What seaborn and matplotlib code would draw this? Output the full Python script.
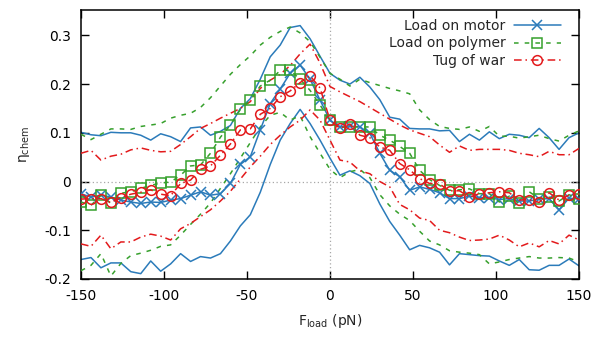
import numpy as np
import pandas as pd
import matplotlib
matplotlib.use("Agg")
import matplotlib.pyplot as plt
import seaborn as sns

# ---------------- data ----------------
force = [-150, -144, -138, -132, -126, -120, -114, -108, -102, -96, -90, -84, -78,
         -72, -66, -60, -54, -48, -42, -36, -30, -24, -18, -12, -6, 0,
         6, 12, 18, 24, 30, 36, 42, 48, 54, 60, 66, 72, 78, 84, 90,
         96, 102, 108, 114, 120, 126, 132, 138, 144, 150]

motor_mean = [-0.025, -0.032, -0.028, -0.032, -0.038, -0.042, -0.045, -0.042, -0.043, -0.038,
              -0.035, -0.028, -0.021, -0.028, -0.025, -0.004, 0.035, 0.051, 0.106, 0.160,
              0.190, 0.222, 0.239, 0.210, 0.167, 0.126, 0.112, 0.114, 0.112, 0.099,
              0.058, 0.023, 0.010, -0.018, -0.011, -0.016, -0.023, -0.035, -0.035, -0.030,
              -0.033, -0.033, -0.037, -0.035, -0.040, -0.040, -0.036, -0.035, -0.058, -0.034,
              -0.036]
motor_hi = [0.101, 0.096, 0.094, 0.101, 0.100, 0.100, 0.095, 0.085, 0.098, 0.092,
            0.082, 0.110, 0.112, 0.095, 0.103, 0.115, 0.150, 0.170, 0.210, 0.256,
            0.280, 0.316, 0.320, 0.293, 0.257, 0.222, 0.208, 0.200, 0.214, 0.194,
            0.168, 0.132, 0.128, 0.109, 0.108, 0.108, 0.104, 0.105, 0.082, 0.097,
            0.085, 0.102, 0.088, 0.097, 0.095, 0.090, 0.109, 0.090, 0.066, 0.090,
            0.100]
motor_lo = [-0.160, -0.156, -0.177, -0.167, -0.167, -0.185, -0.189, -0.163, -0.184, -0.169,
            -0.148, -0.164, -0.154, -0.157, -0.148, -0.122, -0.091, -0.068, -0.022, 0.035,
            0.085, 0.119, 0.148, 0.119, 0.085, 0.048, 0.013, 0.022, 0.012, -0.004,
            -0.046, -0.082, -0.110, -0.140, -0.131, -0.136, -0.145, -0.171, -0.148, -0.150,
            -0.152, -0.153, -0.163, -0.172, -0.160, -0.181, -0.182, -0.172, -0.172, -0.159,
            -0.173]

polymer_mean = [-0.042, -0.049, -0.028, -0.045, -0.024, -0.021, -0.014, -0.008, -0.003, -0.001,
                0.013, 0.032, 0.034, 0.058, 0.091, 0.116, 0.148, 0.167, 0.196, 0.208,
                0.228, 0.228, 0.210, 0.187, 0.157, 0.126, 0.111, 0.112, 0.112, 0.112,
                0.095, 0.085, 0.072, 0.058, 0.023, 0.004, -0.008, -0.018, -0.017, -0.015,
                -0.025, -0.025, -0.042, -0.030, -0.045, -0.021, -0.035, -0.032, -0.040, -0.027,
                -0.035]
polymer_hi = [0.097, 0.086, 0.097, 0.108, 0.108, 0.107, 0.113, 0.116, 0.119, 0.130,
              0.136, 0.140, 0.152, 0.172, 0.196, 0.220, 0.240, 0.258, 0.280, 0.296,
              0.308, 0.317, 0.305, 0.287, 0.255, 0.222, 0.210, 0.196, 0.210, 0.203,
              0.197, 0.191, 0.186, 0.180, 0.147, 0.127, 0.113, 0.109, 0.107, 0.112,
              0.103, 0.113, 0.093, 0.093, 0.089, 0.092, 0.095, 0.088, 0.083, 0.095,
              0.104]
polymer_lo = [-0.183, -0.172, -0.148, -0.194, -0.168, -0.152, -0.147, -0.141, -0.133, -0.130,
              -0.110, -0.088, -0.067, -0.044, -0.014, 0.016, 0.048, 0.080, 0.112, 0.136,
              0.142, 0.126, 0.135, 0.092, 0.058, 0.025, 0.008, 0.020, 0.025, 0.008,
              -0.027, -0.050, -0.067, -0.080, -0.102, -0.122, -0.130, -0.142, -0.145, -0.147,
              -0.150, -0.169, -0.165, -0.160, -0.157, -0.154, -0.157, -0.157, -0.156, -0.157,
              -0.165]

tug_mean = [-0.036, -0.035, -0.035, -0.043, -0.033, -0.026, -0.022, -0.017, -0.026, -0.029,
            -0.004, 0.003, 0.025, 0.032, 0.054, 0.077, 0.106, 0.108, 0.138, 0.150,
            0.174, 0.186, 0.203, 0.217, 0.192, 0.126, 0.109, 0.118, 0.095, 0.090,
            0.071, 0.064, 0.037, 0.024, 0.006, -0.004, -0.005, -0.019, -0.019, -0.032,
            -0.025, -0.023, -0.021, -0.023, -0.038, -0.037, -0.043, -0.023, -0.038, -0.028,
            -0.026]
tug_hi = [0.058, 0.064, 0.044, 0.052, 0.056, 0.065, 0.069, 0.064, 0.061, 0.062,
          0.076, 0.092, 0.109, 0.119, 0.130, 0.140, 0.150, 0.164, 0.191, 0.208,
          0.220, 0.238, 0.262, 0.282, 0.243, 0.195, 0.184, 0.174, 0.164, 0.152,
          0.140, 0.128, 0.116, 0.106, 0.099, 0.092, 0.075, 0.060, 0.073, 0.064,
          0.066, 0.066, 0.066, 0.064, 0.058, 0.055, 0.051, 0.062, 0.055, 0.055,
          0.068]
tug_lo = [-0.128, -0.133, -0.110, -0.138, -0.124, -0.124, -0.114, -0.108, -0.112, -0.120,
          -0.097, -0.086, -0.072, -0.058, -0.040, -0.020, 0.005, 0.030, 0.052, 0.076,
          0.095, 0.112, 0.126, 0.147, 0.126, 0.085, 0.044, 0.040, 0.022, 0.016,
          0.000, -0.011, -0.047, -0.058, -0.075, -0.080, -0.100, -0.105, -0.114, -0.121,
          -0.120, -0.118, -0.110, -0.120, -0.134, -0.126, -0.134, -0.121, -0.128, -0.110,
          -0.120]

labels = ["Load on motor", "Load on polymer", "Tug of war"]
x_ticks = [-150, -100, -50, 0, 50, 100, 150]
y_ticks = [-0.2, -0.1, 0, 0.1, 0.2, 0.3]
y_ticklabels = ["-0.2", "-0.1", "0", "0.1", "0.2", "0.3"]
x_ticklabels = ["-150", "-100", "-50", "0", "50", "100", "150"]

# ---------------- style ----------------
sns.set_theme(style="ticks")
plt.rcParams["font.family"] = ["DejaVu Sans"]
plt.rcParams["mathtext.fontset"] = "dejavusans"
plt.rcParams["font.size"] = 10

colors = ["#2b7bba", "#36a02c", "#e31a1c"]
styles = ["-", (0, (3, 4)), (0, (5, 2.5, 1, 2.5))]
markers = ["x", "s", "o"]
lw = 1.1

fig = plt.figure(figsize=(5.98, 3.37), dpi=100)
ax = fig.add_axes([81 / 598, 1 - 279 / 337, (579 - 81) / 598, (279 - 10) / 337])

ax.axhline(0, color="#a8a8a8", lw=0.9, ls=(0, (1, 2)), zorder=1)
ax.axvline(0, color="#a8a8a8", lw=0.9, ls=(0, (1, 2)), zorder=1)

series = [(motor_mean, motor_hi, motor_lo),
          (polymer_mean, polymer_hi, polymer_lo),
          (tug_mean, tug_hi, tug_lo)]

handles = []
for k, (m, hi, lo) in enumerate(series):
    df = pd.DataFrame({"force": force, "mean": m, "hi": hi, "lo": lo})
    for col in ("hi", "lo"):
        sns.lineplot(data=df, x="force", y=col, ax=ax, color=colors[k],
                     linestyle=styles[k], lw=lw, zorder=2 + k, legend=False)
    sns.lineplot(data=df, x="force", y="mean", ax=ax, color=colors[k],
                 linestyle=styles[k], lw=lw, marker=markers[k], markersize=7,
                 markerfacecolor="none", markeredgecolor=colors[k],
                 markeredgewidth=1.1, zorder=5 + k, legend=False)
    handles.append(ax.get_lines()[-1])

ax.set_xlim(-150, 150)
ax.set_ylim(-0.2, 0.352)
ax.set_xticks(x_ticks)
ax.set_xticklabels(x_ticklabels)
ax.set_yticks(y_ticks)
ax.set_yticklabels(y_ticklabels)
ax.tick_params(direction="in", length=6, width=1.0, top=True, right=True,
               labelsize=10, colors="black", pad=7)
for s in ax.spines.values():
    s.set_linewidth(1.1)
    s.set_color("black")
    s.set_visible(True)

ax.set_xlabel(r"F$_{\mathrm{load}}$ (pN)", fontsize=10, labelpad=7)
ax.set_ylabel(r"η$_{\mathrm{chem}}$", fontsize=10, labelpad=9)

leg = ax.legend(handles, labels, loc="upper right", markerfirst=False,
                frameon=False, fontsize=10, handlelength=3.4, handletextpad=0.6,
                labelspacing=0.25, borderpad=0, borderaxespad=0,
                bbox_to_anchor=(561 / 598, 1 - 19 / 337),
                bbox_transform=fig.transFigure)

fig.savefig("out.png", dpi=100)
